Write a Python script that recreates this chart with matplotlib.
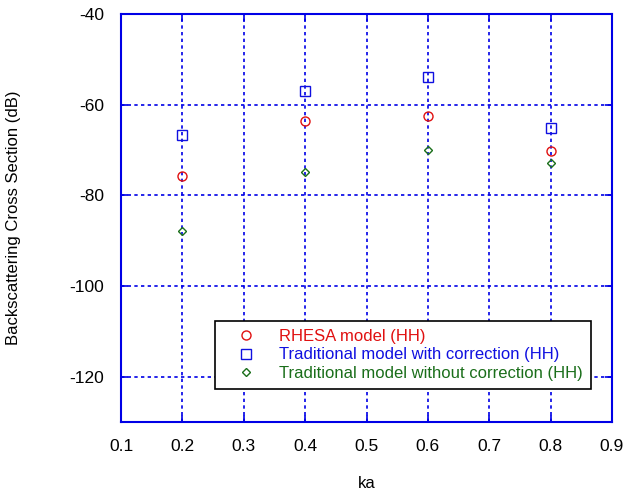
import matplotlib.pyplot as plt

plt.rcParams["font.family"] = ["Liberation Sans", "DejaVu Sans"]
plt.rcParams["axes.unicode_minus"] = False

ka = [0.2, 0.4, 0.6, 0.8]
rhesa = [-75.7, -63.5, -62.4, -70.2]
trad_corr = [-66.8, -56.9, -53.8, -65.1]
trad_nocorr = [-87.9, -74.9, -69.9, -72.8]

frame_blue = "#0000e6"

fig = plt.figure(figsize=(6.23, 4.93), dpi=100)
ax = fig.add_axes([121 / 623, 1 - 422 / 493, 491 / 623, 408 / 493])

ax.plot(ka, rhesa, "o", ls="none", mfc="none", mec="#e01010", ms=6.5, mew=1.0,
        label="RHESA model (HH)")
ax.plot(ka, trad_corr, "s", ls="none", mfc="none", mec="#1010e0", ms=6.5, mew=1.0,
        label="Traditional model with correction (HH)")
ax.plot(ka, trad_nocorr, "D", ls="none", mfc="none", mec="#1a6e1a", ms=4.5, mew=1.0,
        label="Traditional model without correction (HH)")

ax.set_xlim(0.1, 0.9)
ax.set_ylim(-130, -40)
ax.set_xticks([0.1, 0.2, 0.3, 0.4, 0.5, 0.6, 0.7, 0.8, 0.9])
ax.set_yticks([-120, -100, -80, -60, -40])
ax.set_xticklabels(["0.1", "0.2", "0.3", "0.4", "0.5", "0.6", "0.7", "0.8", "0.9"])

ax.grid(True, color=frame_blue, ls=(0, (2, 2)), lw=1.2)
for s in ax.spines.values():
    s.set_color(frame_blue)
    s.set_linewidth(1.5)
ax.tick_params(direction="in", colors=frame_blue, labelcolor="black",
               top=True, right=True, length=5, width=1.2, labelsize=12.5)
ax.tick_params(axis="x", pad=12)
ax.tick_params(axis="y", pad=12)

ax.set_xlabel("ka", fontsize=12, labelpad=16)
ax.set_ylabel("Backscattering Cross Section (dB)", fontsize=12, labelpad=35)

leg = ax.legend(loc="lower left", bbox_to_anchor=(94 / 491, 33 / 408), fontsize=12,
                frameon=True, fancybox=False, framealpha=1, edgecolor="black",
                handletextpad=0.6, handlelength=2.75, borderpad=0.5,
                labelspacing=0.2, borderaxespad=0)
leg.get_frame().set_linewidth(1.2)
for txt, c in zip(leg.get_texts(), ["#e01010", "#1010e0", "#1a6e1a"]):
    txt.set_color(c)

fig.savefig("out.png", dpi=100)
